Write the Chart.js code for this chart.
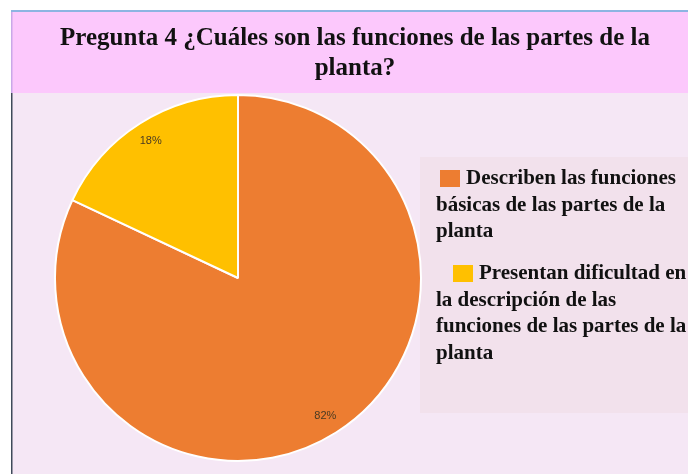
<!DOCTYPE html>
<html>
<head>
<meta charset="utf-8">
<script src="https://cdn.jsdelivr.net/npm/chart.js@4.4.0/dist/chart.umd.min.js"></script>
<style>
  html, body { margin: 0; padding: 0; background: #ffffff; }
  #wrap { width: 688px; height: 474px; position: relative; }
</style>
</head>
<body>
<div id="wrap"><canvas id="chartPlanta" width="688" height="474"></canvas></div>
<script>
// datos del gráfico
const titulo = ['Pregunta 4 ¿Cuáles son las funciones de las partes de la', 'planta?'];
const categorias = [
    ['Describen las funciones', 'básicas de las partes de la', 'planta'],
    ['Presentan dificultad en', 'la descripción de las', 'funciones de las partes de la', 'planta']
];
const porcentajes = [82, 18];
const etiquetas = ['82%', '18%'];
const colores = ['#ED7D31', '#FFC000'];

// fondo, título y leyenda dibujados a mano
const marcoPlugin = {
    id: 'marco',
    beforeDraw(chart) {
        const c = chart.ctx;
        c.save();
        c.fillStyle = '#ffffff';
        c.fillRect(0, 0, chart.width, chart.height);
        // banda del título
        c.fillStyle = '#FCC8FC';
        c.fillRect(11, 12, chart.width - 11, 81);
        c.fillStyle = '#8DB4E2';
        c.fillRect(11, 10, chart.width - 11, 2);
        c.fillStyle = '#C9A8E8';
        c.fillRect(11, 12, 1.5, 81);
        // zona del gráfico
        c.fillStyle = '#F5E7F5';
        c.fillRect(11, 93, chart.width - 11, chart.height - 93);
        c.fillStyle = '#3F4A5A';
        c.fillRect(11, 93, 1.5, chart.height - 93);
        // caja de leyenda
        c.fillStyle = '#F2E1EC';
        c.fillRect(420, 157, chart.width - 420, 256);
        // título
        c.fillStyle = '#111111';
        c.font = 'bold 25px "Liberation Serif", "Times New Roman", serif';
        c.textAlign = 'center';
        c.textBaseline = 'middle';
        titulo.forEach((t, i) => c.fillText(t, 355, 39 + i * 30));
        c.restore();
    },
    afterDatasetsDraw(chart) {
        const c = chart.ctx;
        c.save();
        // porcentajes dentro de los sectores
        c.font = '11px "Liberation Sans", Arial, sans-serif';
        c.fillStyle = '#4A3B22';
        c.textAlign = 'center';
        c.textBaseline = 'middle';
        chart.getDatasetMeta(0).data.forEach((arc, i) => {
            const mid = (arc.startAngle + arc.endAngle) / 2;
            const r = arc.outerRadius * 0.89;
            c.fillText(etiquetas[i], arc.x + Math.cos(mid) * r, arc.y + Math.sin(mid) * r);
        });
        // leyenda
        c.font = 'bold 21px "Liberation Serif", "Times New Roman", serif';
        c.textAlign = 'left';
        c.fillStyle = '#111111';
        const inicio = [{ box: 440, y: 178 }, { box: 453, y: 273 }];
        categorias.forEach((lineas, i) => {
            const p = inicio[i];
            c.fillStyle = colores[i];
            c.fillRect(p.box, p.y - 8, 20, 17);
            c.fillStyle = '#111111';
            lineas.forEach((l, j) => {
                const x = j === 0 ? p.box + 26 : 436;
                c.fillText(l, x, p.y + 1 + j * 26.5);
            });
        });
        c.restore();
    }
};

const ctx = document.getElementById('chartPlanta').getContext('2d');
const myChart = new Chart(ctx, {
    type: 'pie',
    data: {
        labels: categorias,
        datasets: [{
            data: porcentajes,
            backgroundColor: colores,
            borderColor: '#ffffff',
            borderWidth: 2
        }]
    },
    plugins: [marcoPlugin],
    options: {
        responsive: false,
        animation: false,
        events: [],
        layout: {
            padding: { top: 94, left: 54, right: 266, bottom: 12 }
        },
        plugins: {
            legend: { display: false },
            title: { display: false },
            tooltip: { enabled: false }
        }
    }
});
</script>
</body>
</html>
